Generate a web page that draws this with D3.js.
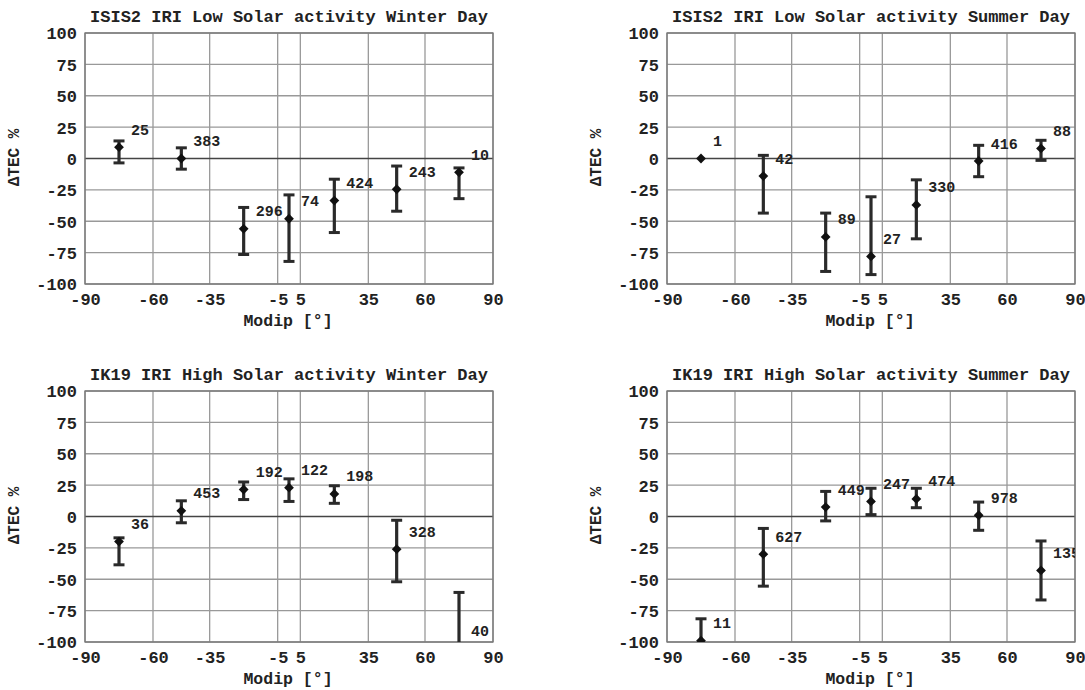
<!DOCTYPE html>
<html>
<head>
<meta charset="utf-8">
<script src="https://cdn.jsdelivr.net/npm/d3@7"></script>
<style>
  html, body { margin: 0; padding: 0; background: #fff; }
  svg { display: block; }
  text { font-family: "Liberation Mono", "Courier New", monospace; fill: #222; }
</style>
</head>
<body>
<svg id="chart" width="1085" height="690"></svg>
<script>
// Modip bin centres (degrees) shared by all four panels
const modipCenters = [-75, -47.5, -20, 0, 20, 47.5, 75];
const xTicks = [-90, -60, -35, -5, 5, 35, 60, 90];
const yTicks = [100, 75, 50, 25, 0, -25, -50, -75, -100];

const panelTitles = [
  "ISIS2 IRI Low Solar activity Winter Day",
  "ISIS2 IRI Low Solar activity Summer Day",
  "IK19 IRI High Solar activity Winter Day",
  "IK19 IRI High Solar activity Summer Day"
];

// ISIS2, low solar activity, winter day
const isisWinterMean  = [9, 0, -56, -48, -33.5, -24.5, -11];
const isisWinterLow   = [-3.5, -8.5, -76.5, -82, -59, -42, -32];
const isisWinterHigh  = [14, 8.5, -39, -29, -16.5, -6, -7.5];
const isisWinterCount = [25, 383, 296, 74, 424, 243, 10];

// ISIS2, low solar activity, summer day
const isisSummerMean  = [0, -14, -62.5, -78, -37, -2, 8];
const isisSummerLow   = [0, -43.5, -90, -92.5, -64, -14.5, -1.5];
const isisSummerHigh  = [0, 2.5, -43.5, -30.5, -17, 10.5, 14.5];
const isisSummerCount = [1, 42, 89, 27, 330, 416, 88];

// IK19, high solar activity, winter day
const ikWinterMean  = [-20, 4.5, 21.5, 23, 18, -26, -105.5];
const ikWinterLow   = [-38.5, -5, 13.5, 12, 10.5, -52, -130];
const ikWinterHigh  = [-17, 12.5, 27.5, 30, 24.5, -3, -60.5];
const ikWinterCount = [36, 453, 192, 122, 198, 328, 40];

// IK19, high solar activity, summer day
const ikSummerMean  = [-99, -30, 7.5, 12, 14, 1, -43];
const ikSummerLow   = [-116, -55.5, -3.5, 1.5, 7, -11, -66.5];
const ikSummerHigh  = [-81.5, -9.5, 20, 22.5, 22.5, 11.5, -19.5];
const ikSummerCount = [11, 627, 449, 247, 474, 978, 135];

const panels = [
  { title: panelTitles[0], mean: isisWinterMean, low: isisWinterLow, high: isisWinterHigh, count: isisWinterCount, left: 85,  top: 33 },
  { title: panelTitles[1], mean: isisSummerMean, low: isisSummerLow, high: isisSummerHigh, count: isisSummerCount, left: 667, top: 33 },
  { title: panelTitles[2], mean: ikWinterMean,   low: ikWinterLow,   high: ikWinterHigh,   count: ikWinterCount,   left: 85,  top: 391 },
  { title: panelTitles[3], mean: ikSummerMean,   low: ikSummerLow,   high: ikSummerHigh,   count: ikSummerCount,   left: 667, top: 391 }
];

const plotW = 408, plotH = 251;
const svg = d3.select("#chart");

panels.forEach((p, i) => {
  const g = svg.append("g").attr("transform", `translate(${p.left},${p.top})`);
  const x = d3.scaleLinear().domain([-90, 90]).range([0, plotW]);
  const y = d3.scaleLinear().domain([-100, 100]).range([plotH, 0]);

  const clipId = "clip" + i;
  g.append("clipPath").attr("id", clipId)
    .append("rect").attr("width", plotW).attr("height", plotH);

  // grid
  g.append("g").selectAll("line.vg").data(xTicks).join("line")
    .attr("x1", d => x(d)).attr("x2", d => x(d))
    .attr("y1", 0).attr("y2", plotH)
    .attr("stroke", "#999").attr("stroke-width", 1.3);
  g.append("g").selectAll("line.hg").data(yTicks).join("line")
    .attr("x1", 0).attr("x2", plotW)
    .attr("y1", d => y(d)).attr("y2", d => y(d))
    .attr("stroke", d => d === 0 ? "#444" : "#999")
    .attr("stroke-width", d => d === 0 ? 1.6 : 1.3);

  g.append("rect").attr("width", plotW).attr("height", plotH)
    .attr("fill", "none").attr("stroke", "#777").attr("stroke-width", 1.3);

  // axes
  const xAxis = d3.axisBottom(x).tickValues(xTicks).tickSize(0).tickPadding(0)
    .tickFormat(d => String(d));
  const gx = g.append("g").attr("transform", `translate(0,${plotH})`).call(xAxis);
  gx.select(".domain").remove();
  gx.selectAll("text").attr("dy", null).attr("y", 21)
    .style("font-size", "17px").style("font-weight", "bold").attr("fill", "#222");

  const yAxis = d3.axisLeft(y).tickValues(yTicks).tickSize(0).tickPadding(0)
    .tickFormat(d => String(d));
  const gy = g.append("g").call(yAxis);
  gy.select(".domain").remove();
  gy.selectAll("text").attr("x", -8).attr("dy", "0.35em")
    .style("font-size", "17px").style("font-weight", "bold").attr("fill", "#222");

  // titles
  g.append("text").attr("x", plotW / 2).attr("y", -11)
    .attr("text-anchor", "middle")
    .style("font-size", "17px").style("font-weight", "bold")
    .text(p.title);
  g.append("text").attr("x", plotW / 2 - 1).attr("y", plotH + 42)
    .attr("text-anchor", "middle")
    .style("font-size", "16.5px").style("font-weight", "bold")
    .text("Modip [°]");
  g.append("text")
    .attr("transform", `translate(${-66},${plotH / 2 - 1}) rotate(-90)`)
    .attr("text-anchor", "middle")
    .style("font-size", "16px").style("font-weight", "bold")
    .text("ΔTEC %");

  // data: error bars, markers, counts
  const data = modipCenters.map((m, k) => ({
    m, mean: p.mean[k], low: p.low[k], high: p.high[k], n: p.count[k]
  }));
  const marks = g.append("g").attr("clip-path", `url(#${clipId})`);
  const capW = 5.5;
  const bars = marks.selectAll("g.eb").data(data).join("g");
  const spread = bars.filter(d => d.high !== d.low);
  spread.append("line")
    .attr("x1", d => x(d.m)).attr("x2", d => x(d.m))
    .attr("y1", d => y(d.high)).attr("y2", d => y(d.low))
    .attr("stroke", "#2a2a2a").attr("stroke-width", 3.2);
  spread.append("line")
    .attr("x1", d => x(d.m) - capW).attr("x2", d => x(d.m) + capW)
    .attr("y1", d => y(d.high)).attr("y2", d => y(d.high))
    .attr("stroke", "#2a2a2a").attr("stroke-width", 3);
  spread.append("line")
    .attr("x1", d => x(d.m) - capW).attr("x2", d => x(d.m) + capW)
    .attr("y1", d => y(d.low)).attr("y2", d => y(d.low))
    .attr("stroke", "#2a2a2a").attr("stroke-width", 3);
  // mean marker: square turned 45° into a diamond
  bars.append("path")
    .attr("d", d3.symbol().type(d3.symbolSquare).size(48))
    .attr("transform", d => `translate(${x(d.m)},${y(d.mean)}) rotate(45)`)
    .attr("fill", "#111");
  bars.append("text")
    .attr("x", d => x(d.m) + 12).attr("y", d => y(d.mean) - 12.5)
    .style("font-size", "15px").style("font-weight", "bold").attr("fill", "#222")
    .text(d => d.n);
});
</script>
</body>
</html>
